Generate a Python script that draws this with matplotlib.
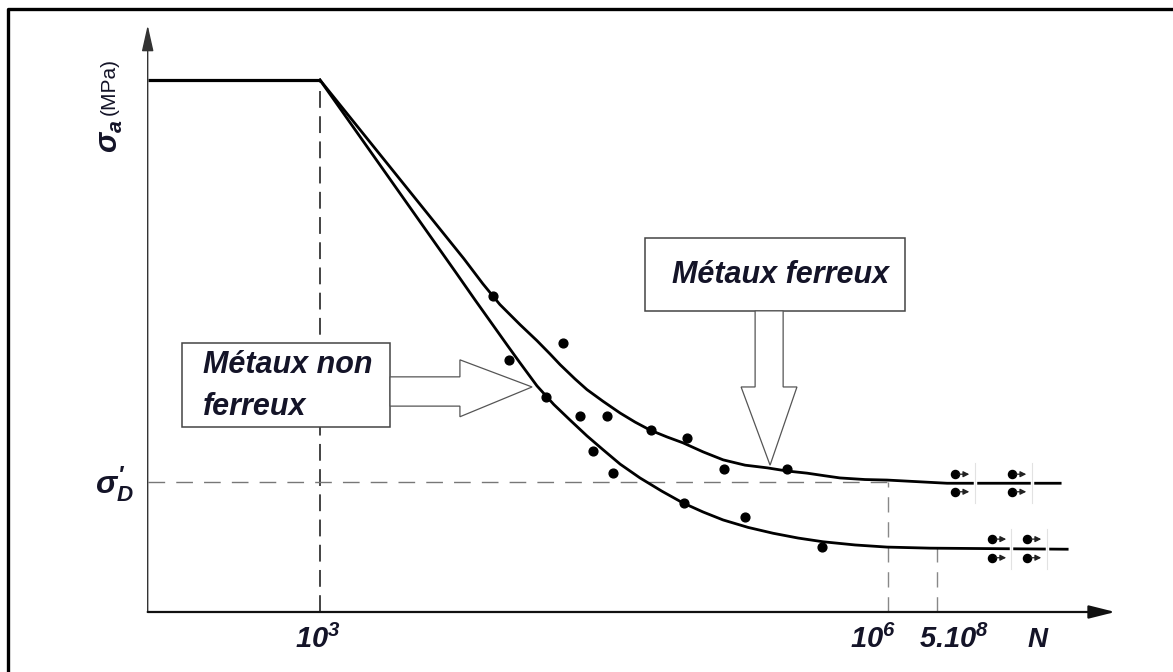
import numpy as np
import matplotlib
matplotlib.use('Agg')
import matplotlib.pyplot as plt
from matplotlib.patches import Rectangle, Polygon
from matplotlib.lines import Line2D

plt.rcParams['mathtext.fontset'] = 'custom'
plt.rcParams['mathtext.rm'] = 'Liberation Sans:bold:italic'
plt.rcParams['mathtext.it'] = 'Liberation Sans:bold:italic'
plt.rcParams['mathtext.bf'] = 'Liberation Sans:bold:italic'

# schematic units: x ~ position of log(N), y ~ stress amplitude (relative)
x_origin = 2.09
x_end = 7.20
y_end = 110.3
sigma_max = 100.0
sigma_D = 24.4          # endurance limit (ferrous)
sigma_nf = 12.0         # plateau of non-ferrous curve

tick_pos = [3.0, 6.0, 6.26]
tick_labels = [r'$10^{3}$', r'$10^{6}$', r'$5.10^{8}$']
tick_label_x = [2.99, 5.92, 6.35]

# ferrous metals curve
ferr_x = [3.000, 3.760, 3.860, 3.950, 4.057, 4.146, 4.215, 4.268, 4.347, 4.410, 4.495,
          4.585, 4.664, 4.743, 4.833, 4.917, 5.023, 5.129, 5.245, 5.361, 5.467,
          5.572, 5.667, 5.746, 5.878, 5.995, 6.312, 6.909]
ferr_y = [100.0, 66.4, 61.7, 57.8, 54.0, 51.0, 48.5, 46.5, 43.8, 41.8, 39.6,
          37.4, 35.7, 34.2, 32.9, 31.8, 30.1, 28.6, 27.6, 27.1, 26.5,
          26.1, 25.6, 25.2, 24.9, 24.8, 24.2, 24.2]

# non-ferrous metals curve
nonf_x = [3.000, 3.720, 3.820, 3.910, 3.990, 4.057, 4.146, 4.235, 4.320, 4.410, 4.495,
          4.585, 4.690, 4.806, 4.917, 5.023, 5.129, 5.261, 5.393, 5.525, 5.657,
          5.826, 5.995, 6.222, 6.946]
nonf_y = [100.0, 63.7, 58.6, 54.1, 50.1, 46.8, 42.5, 39.0, 36.1, 33.1, 30.5,
          27.8, 25.2, 22.7, 20.5, 18.8, 17.3, 15.9, 14.8, 13.9, 13.2,
          12.6, 12.2, 12.0, 11.8]

# test points
pts_x = [3.914, 3.998, 4.283, 4.194, 4.373, 4.516, 4.442, 4.548, 4.748, 4.938,
         4.923, 5.134, 5.245, 5.467, 5.651]
pts_y = [59.4, 47.4, 50.6, 40.4, 36.8, 36.8, 30.3, 26.1, 34.2, 32.7,
         20.5, 26.9, 17.9, 26.9, 12.2]

# run-out specimens (no failure)
run_ferr_x = [6.354, 6.655]
run_ferr_y = [25.9, 22.6]
run_ferr_sep = [6.460, 6.761]
run_nonf_x = [6.549, 6.734]
run_nonf_y = [13.7, 10.2]
run_nonf_sep = [6.650, 6.840]

fig = plt.figure(figsize=(11.73, 6.72), dpi=100)
ax = fig.add_axes([0, 0, 1, 1])
ax.set_xlim(1.310, 7.505)
ax.set_ylim(-11.28, 115.04)
ax.axis('off')

ink = '#141428'
bold_it = dict(fontweight='bold', fontstyle='italic', family='Liberation Sans')

# frame (left and top only, picture is cropped)
fig.add_artist(Line2D([0.0068, 0.0068, 1.0], [0.0, 0.9866, 0.9866],
                      transform=fig.transFigure, color='black', lw=2.4))

# axes arrows
ax.annotate('', xy=(x_origin, y_end), xytext=(x_origin, 0),
            arrowprops=dict(arrowstyle='-|>,head_length=0.8,head_width=0.18',
                            mutation_scale=20, color='#333333', lw=1.0,
                            shrinkA=0, shrinkB=0))
ax.annotate('', xy=(x_end, 0), xytext=(x_origin, 0),
            arrowprops=dict(arrowstyle='-|>,head_length=0.8,head_width=0.2',
                            mutation_scale=20, color='#111111', lw=1.6,
                            shrinkA=0, shrinkB=0))

# guide lines
ax.plot([tick_pos[0], tick_pos[0]], [0, sigma_max], color='#111111', lw=1.1,
        ls=(0, (11, 5.5)))
ax.plot([x_origin, tick_pos[1]], [sigma_D, sigma_D], color='#777777', lw=1.0,
        ls=(0, (12, 8)))
ax.plot([tick_pos[1], tick_pos[1]], [0, sigma_D], color='#888888', lw=1.0,
        ls=(0, (11, 7)))
ax.plot([tick_pos[2], tick_pos[2]], [0, sigma_nf], color='#888888', lw=1.0,
        ls=(0, (11, 7)))

# plateau + curves
ax.plot([x_origin, 3.0], [sigma_max, sigma_max], color='black', lw=2.3,
        solid_capstyle='butt')
ax.plot(ferr_x, ferr_y, color='black', lw=2.0, solid_joinstyle='round')
ax.plot(nonf_x, nonf_y, color='black', lw=2.0, solid_joinstyle='round')

ax.scatter(pts_x, pts_y, s=40, color='black', zorder=5)

# run-outs
for xs, ys, seps, yc in [(run_ferr_x, run_ferr_y, run_ferr_sep, 24.2),
                         (run_nonf_x, run_nonf_y, run_nonf_sep, 11.8)]:
    for sx in seps:
        ax.plot([sx, sx], [yc - 1.0, yc + 1.0], color='white', lw=2.5, zorder=6)
        ax.plot([sx, sx], [yc - 3.8, yc + 3.8], color='#e2e2e2', lw=0.8, zorder=7)
    for x in xs:
        for y in ys:
            ax.scatter([x], [y], s=34, color='black', zorder=8)
            ax.annotate('', xy=(x + 0.075, y), xytext=(x + 0.02, y),
                        arrowprops=dict(arrowstyle='-|>,head_length=0.5,head_width=0.25',
                                        mutation_scale=7, color='#222222',
                                        lw=0.9, shrinkA=0, shrinkB=0),
                        zorder=8)

# "Métaux ferreux" box and down arrow
ax.add_patch(Rectangle((4.717, 56.6), 6.090 - 4.717, 70.3 - 56.6,
                       facecolor='white', edgecolor='#444444', lw=1.1, zorder=9))
ax.text(5.435, 63.3, 'Métaux ferreux', fontsize=22, color=ink,
        ha='center', va='center', zorder=10, **bold_it)
down_arrow = [(5.298, 56.6), (5.298, 42.3), (5.224, 42.3), (5.377, 27.6),
              (5.519, 42.3), (5.446, 42.3), (5.446, 56.6)]
ax.add_patch(Polygon(down_arrow, closed=True, facecolor='white',
                     edgecolor='#555555', lw=0.9, zorder=9))

# "Métaux non ferreux" box and right arrow
ax.add_patch(Rectangle((2.271, 34.8), 3.370 - 2.271, 50.6 - 34.8,
                       facecolor='white', edgecolor='#444444', lw=1.1, zorder=9))
ax.text(2.382, 46.4, 'Métaux non', fontsize=22, color=ink,
        ha='left', va='center', zorder=10, **bold_it)
ax.text(2.382, 38.5, 'ferreux', fontsize=22, color=ink,
        ha='left', va='center', zorder=10, **bold_it)
right_arrow = [(3.370, 44.2), (3.739, 44.2), (3.739, 47.4), (4.120, 42.3),
               (3.739, 36.7), (3.739, 38.7), (3.370, 38.7)]
ax.add_patch(Polygon(right_arrow, closed=True, facecolor='white',
                     edgecolor='#555555', lw=0.9, zorder=9))

# axis labels
ax.text(1.896, 89.5, r'$\sigma_{a}$', fontsize=22, rotation=90, color=ink,
        ha='center', va='center')
ax.text(1.885, 98.8, '(MPa)', fontsize=15, rotation=90, color=ink,
        family='Liberation Sans', ha='center', va='center')
ax.text(1.915, 24.0, r"$\sigma_{D}^{\prime}$", fontsize=23, color=ink,
        ha='center', va='center')

for lx, lab in zip(tick_label_x, tick_labels):
    ax.text(lx, -5.2, lab, fontsize=21, color=ink, ha='center', va='center')
ax.text(6.792, -5.3, 'N', fontsize=20, color=ink, ha='center', va='center',
        **bold_it)

fig.savefig('out.png', dpi=100)
